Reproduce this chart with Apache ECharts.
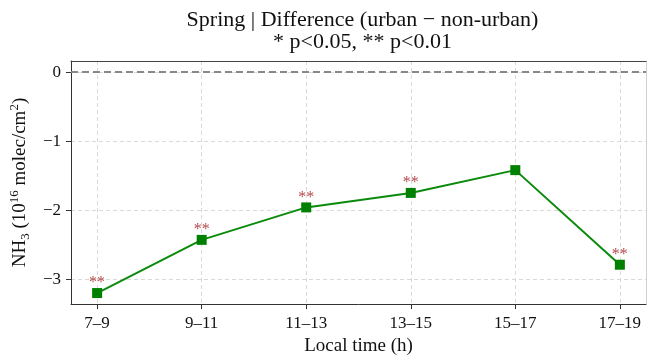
<!DOCTYPE html>
<html>
<head>
<meta charset="utf-8">
<script src="https://cdn.jsdelivr.net/npm/echarts@6/dist/echarts.min.js"></script>
<style>
  html, body { margin: 0; padding: 0; background: #fff; }
  #chart { width: 647px; height: 361px; }
</style>
</head>
<body>
<div id="chart"></div>
<script>
// Time windows (local time) and urban minus non-urban NH3 column difference
const timeSlots = ['7–9', '9–11', '11–13', '13–15', '15–17', '17–19'];
const diffValues = [-3.20, -2.43, -1.96, -1.75, -1.42, -2.79];
const significance = ['**', '**', '**', '**', '', '**'];
const yTicks = [-3, -2, -1, 0];
const xTicks = timeSlots.map((_, i) => i);

const FONT = "'Liberation Serif', 'DejaVu Serif', serif";
const fmtMinus = v => (v < 0 ? '\u2212' + Math.abs(v) : String(v));

const chart = echarts.init(document.getElementById('chart'), null, { renderer: 'canvas' });

chart.setOption({
  backgroundColor: '#fff',
  animation: false,
  title: {
    text: 'Spring | Difference (urban \u2212 non-urban)\n* p<0.05, ** p<0.01',
    left: 357.5,
    textAlign: 'center',
    top: 4,
    textStyle: {
      fontFamily: FONT,
      fontSize: 22,
      fontWeight: 'normal',
      color: '#111',
      lineHeight: 22
    }
  },
  grid: { left: 69, right: 1, top: 61, bottom: 52, containLabel: false },
  xAxis: [
    {
      type: 'value',
      min: -0.25,
      max: 5.25,
      name: 'Local time (h)',
      nameLocation: 'middle',
      nameGap: 31,
      nameTextStyle: { fontFamily: FONT, fontSize: 19, color: '#111' },
      axisLine: { show: true, onZero: false, lineStyle: { color: '#333', width: 1 } },
      axisTick: { show: true, customValues: xTicks, length: 5, lineStyle: { color: '#333' } },
      axisLabel: {
        customValues: xTicks,
        formatter: v => timeSlots[Math.round(v)] || '',
        fontFamily: FONT, fontSize: 17, color: '#111', margin: 11
      },
      splitLine: { show: true, lineStyle: { color: '#d9d9d9', type: [4, 3], width: 1 } }
    },
    {
      // top frame edge
      type: 'value', position: 'top', min: 0, max: 1,
      axisLine: { show: true, onZero: false, lineStyle: { color: '#444', width: 1 } },
      axisTick: { show: false }, axisLabel: { show: false }, splitLine: { show: false }
    }
  ],
  yAxis: [
    {
      type: 'value',
      min: -3.36,
      max: 0.16,
      name: '{t|NH}{sub|3}{t| (10}{sup|16}{t| molec/cm}{sup|2}{t|)}',
      nameLocation: 'middle',
      nameRotate: 90,
      nameGap: 27,
      nameTextStyle: {
        fontFamily: FONT, color: '#111',
        rich: {
          t: { fontFamily: FONT, fontSize: 19, lineHeight: 24, verticalAlign: 'middle', color: '#111' },
          sub: { fontFamily: FONT, fontSize: 13, lineHeight: 13, verticalAlign: 'bottom', color: '#111' },
          sup: { fontFamily: FONT, fontSize: 13, lineHeight: 13, verticalAlign: 'top', color: '#111' }
        }
      },
      axisLine: { show: true, onZero: false, lineStyle: { color: '#333', width: 1 } },
      axisTick: { show: true, customValues: yTicks, length: 5, lineStyle: { color: '#333' } },
      axisLabel: {
        customValues: yTicks,
        formatter: fmtMinus,
        fontFamily: FONT, fontSize: 17, color: '#111', margin: 10
      },
      splitLine: { show: true, lineStyle: { color: '#d9d9d9', type: [4, 3], width: 1 } }
    },
    {
      // right frame edge
      type: 'value', position: 'right', min: 0, max: 1,
      axisLine: { show: true, onZero: false, lineStyle: { color: '#d0d0d0', width: 1 } },
      axisTick: { show: false }, axisLabel: { show: false }, splitLine: { show: false }
    }
  ],
  series: [
    {
      type: 'line',
      xAxisIndex: 0,
      yAxisIndex: 0,
      data: diffValues.map((v, i) => [i, v]),
      symbol: 'rect',
      symbolSize: 10,
      lineStyle: { color: '#0a8a0a', width: 2 },
      itemStyle: { color: '#008000' },
      label: {
        show: true,
        position: 'top',
        distance: -3,
        formatter: p => significance[p.dataIndex],
        fontFamily: FONT,
        fontSize: 16,
        color: '#b5484a'
      },
      markLine: {
        silent: true,
        symbol: 'none',
        label: { show: false },
        lineStyle: { color: '#888', type: [7, 4], width: 1.8 },
        data: [{ yAxis: 0 }]
      },
      z: 3
    }
  ]
});
</script>
</body>
</html>
